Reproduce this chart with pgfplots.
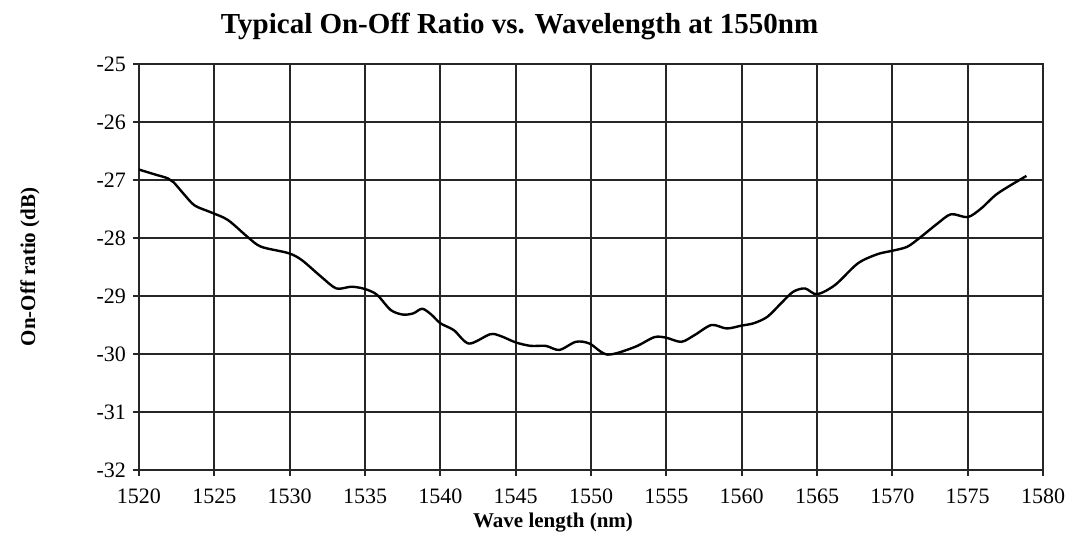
\documentclass[border=0pt]{standalone}
\usepackage{fontspec}
\setmainfont{Liberation Serif}
\usepackage{pgfplots}
\pgfplotsset{compat=1.18}

\begin{document}
\begin{tikzpicture}
\begin{axis}[
  scale only axis,
  width=452pt, height=203pt,
  xmin=1520, xmax=1580,
  ymin=-32, ymax=-25,
  xtick={1520,1525,...,1580},
  ytick={-32,-31,...,-25},
  grid=major,
  grid style={line width=0.9pt, draw=black!85},
  axis line style={line width=0.9pt, draw=black!85},
  tick style={line width=0.9pt, draw=black!85},
  tick align=outside,
  major tick length=3pt,
  xtick pos=bottom, ytick pos=left,
  /pgf/number format/assume math mode=true,
  /pgf/number format/.cd, 1000 sep={}, /pgfplots/.cd,
  tick label style={font=\fontsize{11}{12}\selectfont},
  xticklabel style={anchor=base, yshift=-14pt},
  title={\textbf{Typical On-Off Ratio vs. Wavelength at 1550nm}},
  title style={at={(rel axis cs:0.421,1)}, anchor=base, yshift=9pt,
    font=\fontsize{14.5}{16}\selectfont},
  xlabel={\textbf{Wave length (nm)}},
  xlabel style={at={(rel axis cs:0.458,0)}, anchor=base, yshift=-29pt,
    font=\fontsize{10.5}{12}\selectfont},
  ylabel={\textbf{On-Off ratio (dB)}},
  ylabel style={at={(rel axis cs:0,0.5)}, anchor=center, yshift=54.5pt,
    font=\fontsize{10.5}{12}\selectfont},
]
\addplot[black, line width=1.2pt, smooth, tension=0.5] coordinates {
(1520,-26.82) (1521,-26.90) (1521.9,-26.97) (1522.3,-27.04) (1523,-27.25)
(1523.7,-27.44) (1524.8,-27.56) (1525.9,-27.69) (1527.2,-27.98) (1528.1,-28.15)
(1529.9,-28.26) (1530.8,-28.38) (1532.1,-28.67) (1533.1,-28.87) (1534.1,-28.84)
(1535.0,-28.88) (1535.8,-28.98) (1536.7,-29.24) (1537.5,-29.32) (1538.2,-29.30)
(1538.8,-29.22) (1539.4,-29.32) (1540.0,-29.47) (1540.9,-29.59) (1541.9,-29.82)
(1543.3,-29.66) (1544.0,-29.69) (1545.0,-29.80) (1546.0,-29.86) (1547.0,-29.86)
(1547.9,-29.93) (1549.0,-29.79) (1549.9,-29.82) (1551.1,-30.01) (1552.9,-29.88)
(1554.2,-29.71) (1555.0,-29.72) (1556.0,-29.79) (1556.9,-29.67) (1558.0,-29.50)
(1559.0,-29.56) (1560.0,-29.51) (1560.8,-29.47) (1561.7,-29.36) (1562.6,-29.13)
(1563.4,-28.93) (1564.2,-28.87) (1565.0,-28.97) (1566.2,-28.81) (1567.7,-28.44)
(1569.0,-28.28) (1570.0,-28.22) (1571.0,-28.15) (1571.9,-27.98) (1573.0,-27.75)
(1573.9,-27.59) (1575.0,-27.64) (1575.9,-27.49) (1577.0,-27.23) (1578.9,-26.93)
};
\end{axis}
\pgfresetboundingbox
\path ([shift={(-69.5pt,-37pt)}]current axis.south west) rectangle ([shift={(13.5pt,32pt)}]current axis.north east);
\end{tikzpicture}
\end{document}
